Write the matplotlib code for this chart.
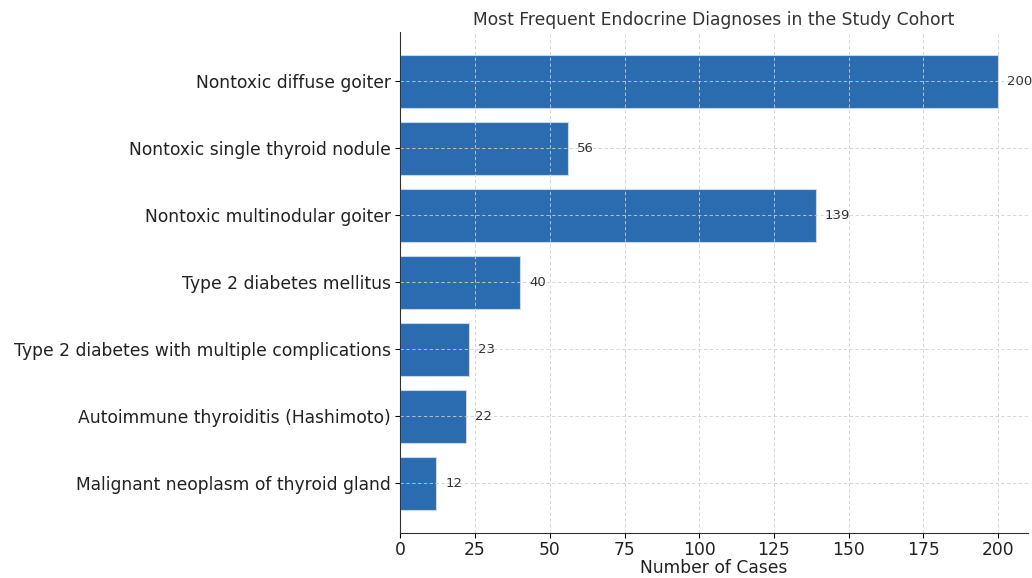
import matplotlib.pyplot as plt

diagnoses = ['Nontoxic diffuse goiter', 'Nontoxic single thyroid nodule',
             'Nontoxic multinodular goiter', 'Type 2 diabetes mellitus',
             'Type 2 diabetes with multiple complications',
             'Autoimmune thyroiditis (Hashimoto)',
             'Malignant neoplasm of thyroid gland']
cases = [200, 56, 139, 40, 23, 22, 12]

fig, ax = plt.subplots(figsize=(10.32, 5.78), dpi=100)
bars = ax.barh(diagnoses, cases, height=0.8, color='#2b6cb0',
               edgecolor='#c8d8ec', linewidth=0.8)
ax.invert_yaxis()
for b, v in zip(bars, cases):
    ax.text(v + 3, b.get_y() + b.get_height() / 2, str(v),
            va='center', ha='left', fontsize=9.5, color='#333333')

ax.set_xlim(0, 210)
ax.set_xlabel('Number of Cases', fontsize=12.3, color='#222222', labelpad=0)
ax.set_title('Most Frequent Endocrine Diagnoses in the Study Cohort',
             fontsize=12.3, color='#333333', pad=5)
ax.tick_params(axis='y', labelsize=12.3, labelcolor='#222222')
ax.tick_params(axis='x', labelsize=12.3, labelcolor='#222222', pad=2)
ax.grid(True, linestyle=(0, (4, 3)), color='#cfcfcf', linewidth=0.6)
ax.set_axisbelow(False)
ax.spines['top'].set_visible(False)
ax.spines['right'].set_visible(False)
ax.spines['left'].set_zorder(5)
ax.spines['bottom'].set_zorder(5)
ax.spines['left'].set_color('#333333')
ax.spines['bottom'].set_color('#333333')

plt.subplots_adjust(left=0.388, right=0.996, top=0.945, bottom=0.078)
plt.savefig('out.png')
